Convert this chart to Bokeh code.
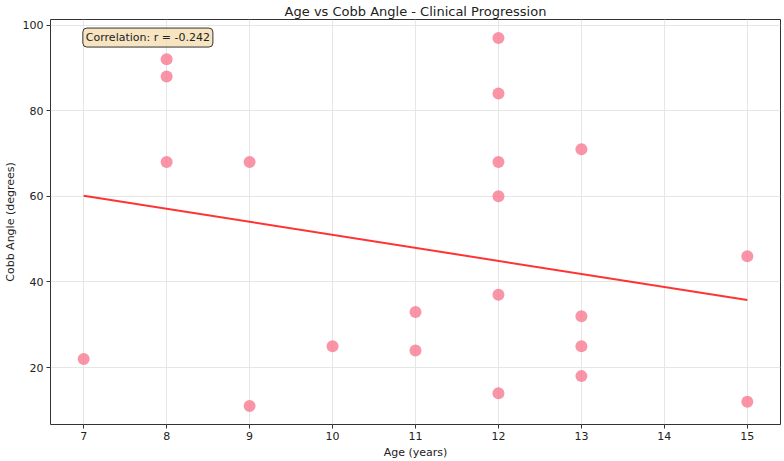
import numpy as np
from bokeh.plotting import figure
from bokeh.models import Range1d, Label, FixedTicker
from bokeh.embed import file_html
from bokeh.resources import INLINE

ages = [7, 8, 8, 8, 9, 9, 10, 11, 11, 12, 12, 12, 12, 12, 12, 13, 13, 13, 13, 15, 15]
cobb = [22, 92, 88, 68, 68, 11, 25, 33, 24, 97, 84, 68, 60, 37, 14, 71, 32, 25, 18, 46, 12]
x_ticks = [7, 8, 9, 10, 11, 12, 13, 14, 15]
y_ticks = [20, 40, 60, 80, 100]
corr_text = "Correlation: r = -0.242"

FONT = "DejaVu Sans"

p = figure(width=784, height=461, output_backend="svg", toolbar_location=None,
           x_range=Range1d(6.6, 15.4), y_range=Range1d(6.7, 101.3),
           min_border_left=0, min_border_right=4, min_border_top=0, min_border_bottom=0)

p.title.text = "Age vs Cobb Angle - Clinical Progression"
p.title.align = "center"
p.title.text_font = FONT
p.title.text_font_size = "13px"
p.title.text_font_style = "normal"
p.title.text_color = "#222222"
p.title.standoff = 2

p.xaxis.axis_label = "Age (years)"
p.yaxis.axis_label = "Cobb Angle (degrees)"
for ax in (p.xaxis[0], p.yaxis[0]):
    ax.axis_label_text_font = FONT
    ax.axis_label_text_font_size = "11px"
    ax.axis_label_text_font_style = "normal"
    ax.axis_label_text_color = "#222222"
    ax.major_label_text_font = FONT
    ax.major_label_text_font_size = "11px"
    ax.major_label_text_color = "#222222"
    ax.minor_tick_line_color = None
    ax.major_tick_in = 0
    ax.major_tick_out = 4
    ax.major_label_standoff = 3
    ax.axis_line_color = None
    ax.major_tick_line_color = "#333333"
p.xaxis.ticker = FixedTicker(ticks=x_ticks)
p.yaxis.ticker = FixedTicker(ticks=y_ticks)
p.xaxis.axis_label_standoff = 3
p.yaxis.axis_label_standoff = 3

p.outline_line_color = "#333333"
p.outline_line_width = 1
p.grid.grid_line_color = "#e6e6e6"
p.grid.grid_line_width = 1

p.scatter(ages, cobb, size=12, fill_color="#f77189", fill_alpha=0.75,
          line_color=None)

xs = np.array(ages, dtype=float)
ys = np.array(cobb, dtype=float)
slope, intercept = np.polyfit(xs, ys, 1)
xl = np.array([xs.min(), xs.max()])
p.line(xl, slope * xl + intercept, line_color="red", line_alpha=0.8, line_width=2)

lab = Label(x=6.99, y=99.3, text=corr_text, anchor="top_left",
            text_font=FONT, text_font_size="11px", text_color="#222222",
            background_fill_color="wheat", background_fill_alpha=0.8,
            border_line_color="#333333", border_line_width=1,
            padding=3, border_radius=4)
p.add_layout(lab)

open("out.html", "w").write(file_html(p, INLINE))
